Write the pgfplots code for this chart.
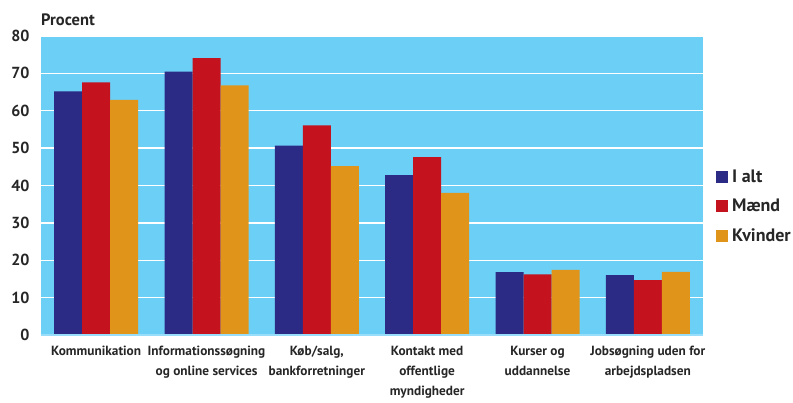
\documentclass[border=0pt]{standalone}
\usepackage{pgfplots}
\pgfplotsset{compat=1.18}
\usepackage{fontspec}
\setmainfont{PT Sans}
\definecolor{bgblue}{HTML}{6CCFF6}
\definecolor{ialt}{HTML}{2B2A85}
\definecolor{maend}{HTML}{C4121E}
\definecolor{kvinder}{HTML}{E0951A}
\begin{document}
\begin{tikzpicture}[x=1pt,y=1pt]
\path[use as bounding box] (-41,-68) rectangle (752,335-0);
\begin{axis}[
  at={(0,0)}, anchor=south west,
  scale only axis, width=662pt, height=299pt,
  ybar=0pt, bar width=28pt,
  xmin=-0.5, xmax=5.5, ymin=0, ymax=80,
  ytick={0,10,...,80},
  xtick=data,
  xticklabels={Kommunikation,{Informationssøgning\\og online services},{Køb/salg,\\bankforretninger},{Kontakt med\\offentlige\\myndigheder},{Kurser og\\uddannelse},{Jobsøgning uden for\\arbejdspladsen}},
  xticklabel style={font=\fontsize{13.3}{20}\selectfont\bfseries, align=center, text=black!85, yshift=-8pt},
  yticklabel style={font=\fontsize{16}{18}\selectfont\bfseries, text=black!85, xshift=-8pt},
  /pgf/number format/assume math mode=true,
  major tick length=0pt,
  axis background/.style={fill=bgblue},
  axis line style={draw=none},
  ymajorgrids, grid style={white, line width=1.4pt},
  axis on top=false,
  legend style={at={(1.015,0.43)}, anchor=west, draw=none, fill=none,
    font=\fontsize{18}{20}\selectfont\bfseries, text=black!85,
    row sep=11pt, legend cell align=left,
    nodes={inner xsep=4pt}},
  legend image code/.code={\fill[#1] (0,-6pt) rectangle (12pt,6pt);},
  every axis plot/.append style={draw=none},
  clip=false,
]
\addplot[fill=ialt] coordinates {(0,65.2) (1,70.5) (2,50.7) (3,42.8) (4,16.8) (5,16.0)};
\addplot[fill=maend] coordinates {(0,67.6) (1,74.1) (2,56.1) (3,47.6) (4,16.2) (5,14.7)};
\addplot[fill=kvinder] coordinates {(0,62.9) (1,66.8) (2,45.2) (3,38.0) (4,17.4) (5,16.9)};
\legend{I alt, Mænd, Kvinder}
\draw[color=bgblue!70!white, line width=1.2pt] (rel axis cs:0,0) -- (rel axis cs:1,0);
\node[anchor=base west, font=\fontsize{16.5}{18}\selectfont\bfseries, text=black!85, inner sep=0pt] at ([yshift=10pt]rel axis cs:0,1) {Procent};
\end{axis}
\end{tikzpicture}
\end{document}
